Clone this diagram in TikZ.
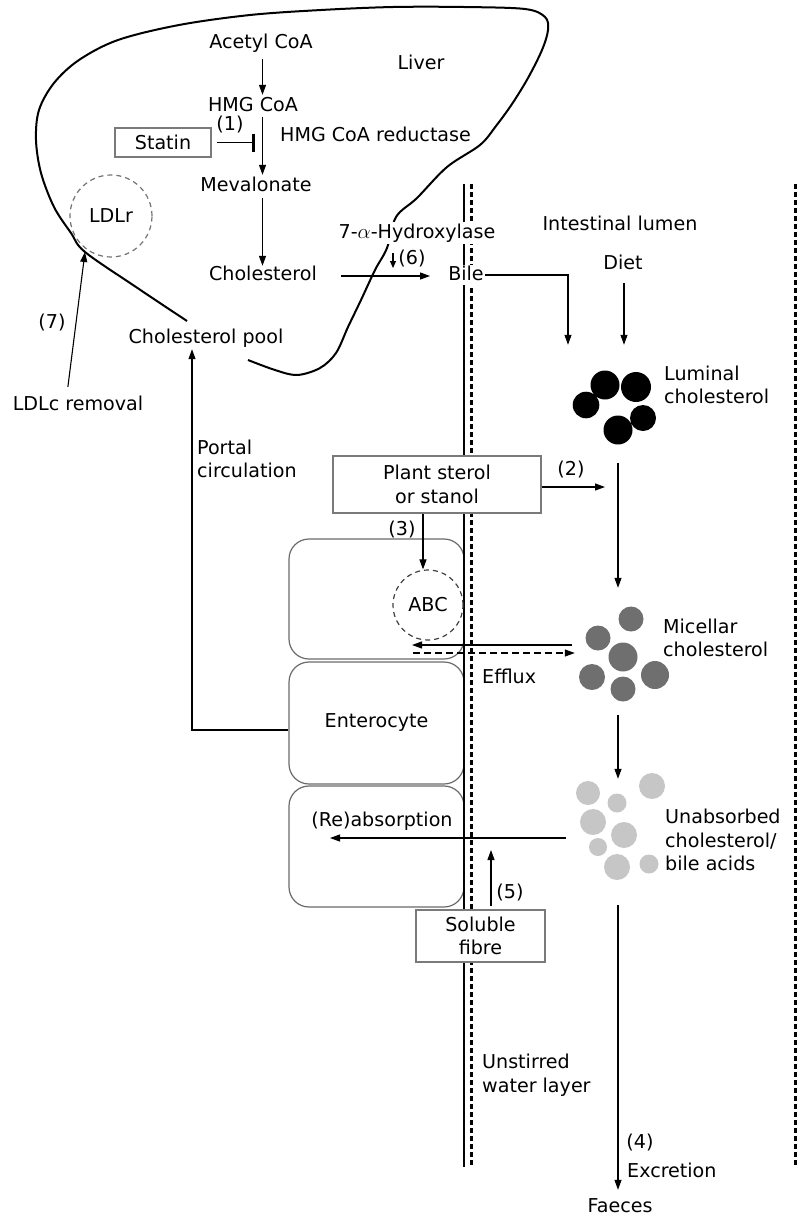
\documentclass[tikz,border=0pt]{standalone}
\usepackage{fontspec}
\setmainfont{DejaVu Sans}
\usetikzlibrary{arrows.meta,calc}
\definecolor{micgray}{HTML}{6F6F6F}
\definecolor{unabgray}{HTML}{C6C6C6}
\definecolor{boxgray}{HTML}{7A7A7A}
\definecolor{cellgray}{HTML}{6A6A6A}
\begin{document}
\begin{tikzpicture}[x=1pt,y=-1pt,
  every node/.style={font=\fontsize{19.1}{23.5}\selectfont, inner sep=2pt},
  lbl/.style={text height=14pt, text depth=4pt},
  arr/.style={draw=black, line width=1.1pt, -{Triangle[length=10pt,width=7pt]}},
  smallarr/.style={draw=black, line width=1.1pt, -{Triangle[length=7pt,width=6pt]}},
  plainline/.style={draw=black, line width=1.1pt},
  liverline/.style={line width=2pt, black},
  txtbox/.style={draw=boxgray, line width=1.3pt, fill=white, inner sep=0pt, align=center},
  cell/.style={draw=cellgray, line width=1.2pt, rounded corners=20pt, minimum width=175pt, inner sep=0pt},
  dcirc/.style={circle, draw=black!75, line width=1.2pt, dash pattern=on 5pt off 4pt, inner sep=0pt, minimum size=70pt},
  memsolid/.style={line width=2.6pt, black},
  memdot/.style={line width=3pt, black, dash pattern=on 5pt off 3pt},
  hole/.style={fill=white},
  cluster/.style={inner sep=0pt, minimum width=80pt}
]
\useasboundingbox (0,0) rectangle (800,1219);

% liver outline
\draw[liverline] plot[smooth, tension=0.55] coordinates {(248,360) (275,370) (297,375) (320,368) (336,353) (348,327) (361,300) (375,270) (387,248) (396,217) (417,198) (447,167) (480,145) (496,126) (512,104) (528,78) (542,50) (548,30) (545,17) (525,9) (464,7) (393,7) (321,10) (250,15) (179,25) (118,40) (79,60) (54,83) (39,110) (36,140) (41,173) (54,207) (71,233) (85,252) (136,287) (187,321)};

% enterocytes
\node[cell, minimum height=120pt] (ent1) at (376.5,599) {};
\node[cell, minimum height=122pt] (ent2) at (376.5,723) {Enterocyte};
\node[cell, minimum height=121pt] (ent3) at (376.5,846.5) {};

% membranes
\draw[memsolid] (464,184) -- (464,1167);
\draw[memdot] (471,184) -- (471,1167);
\draw[memdot] (795,184) -- (795,1165);

% liver labels
\node[lbl] (acetyl) at (261,43) {Acetyl CoA};
\node[lbl] (liver) at (421,64) {Liver};
\node[lbl] (hmg) at (253,106) {HMG CoA};
\node[lbl] (one) at (230,125) {(1)};
\node[lbl, anchor=west] (reduct) at (278,136) {HMG CoA reductase};
\node[txtbox, minimum width=96pt, minimum height=29pt] (statin) at (163,142.5) {Statin};
\node[lbl] (meval) at (256,186) {Mevalonate};
\node[lbl] (chol) at (263,275) {Cholesterol};
\node[dcirc, minimum size=82pt, draw=black!55] (ldlr) at (111,216) {LDLr};
\node[lbl, hole] (hydrox) at (417,233) {7-$\alpha$-Hydroxylase};
\node[lbl] (six) at (412,259) {(6)};
\node[lbl, hole, inner sep=1pt] (bile) at (466,275) {Bile};
\node[lbl, hole] (cpool) at (206,338) {Cholesterol pool};
\node[lbl] (seven) at (52,323) {(7)};
\node[lbl] (ldlc) at (78,405) {LDLc removal};

% lumen labels
\node[lbl] (intest) at (620,225) {Intestinal lumen};
\node[lbl] (diet) at (623,264) {Diet};
\node[anchor=west, align=left] (lumlab) at (662,385) {Luminal\\cholesterol};
\node[anchor=west, align=left] (miclab) at (661,638) {Micellar\\cholesterol};
\node[anchor=west, align=left] (unablab) at (663,840) {Unabsorbed\\cholesterol/\\bile acids};
\node[lbl, anchor=west] (efflux) at (480,678) {Efflux};
\node[anchor=west, align=left] (unstir) at (480,1075) {Unstirred\\water layer};
\node[lbl] (four) at (640,1143) {(4)};
\node[lbl, anchor=west] (excr) at (625,1172) {Excretion};
\node[text height=14pt, text depth=0pt, inner sep=0pt] (faeces) at (620,1205) {Faeces};

% intestinal wall labels
\node[txtbox, minimum width=208pt, minimum height=57pt] (plant) at (437,484.5) {Plant sterol\\or stanol};
\node[lbl] (two) at (571,470) {(2)};
\node[lbl] (three) at (402,530) {(3)};
\node[dcirc] (abc) at (428,605) {ABC};
\node[anchor=west, align=left] (portal) at (195,459) {Portal\\circulation};
\node[lbl] (reabs) at (382,821) {(Re)absorption};
\node[lbl] (five) at (510,893) {(5)};
\node[txtbox, minimum width=129pt, minimum height=52pt] (fibre) at (480.5,936) {Soluble\\fibre};

% clusters (anchors for connectors)
\node[cluster, minimum height=118pt] (lumcl) at (618,404) {};
\node[cluster, minimum width=92pt, minimum height=127pt] (miccl) at (618,651.5) {};
\node[cluster, minimum width=104pt, minimum height=126pt] (unabcl) at (618,842) {};

% luminal cholesterol
\fill[black] (605,385) circle (14.5) (636,387) circle (15) (586,405) circle (13.3) (643,418) circle (13) (618,430) circle (14.5);
% micellar cholesterol
\fill[micgray] (631,619) circle (12.5) (598,638) circle (12.5) (623,657) circle (14.5) (592,677) circle (13) (655,675) circle (14) (623,689) circle (12.5);
% unabsorbed
\fill[unabgray] (588,793) circle (12) (652,786) circle (13) (617,803) circle (9.5) (593,822) circle (13) (624,835) circle (13) (598,847) circle (9) (617,867) circle (13) (649,864) circle (9.5);

% axis coordinates
\coordinate (ax) at (262.5,0);
\coordinate (bilex) at (568,0);
\coordinate (dietx) at (624,0);
\coordinate (threex) at (423,0);
\coordinate (portx) at (192,0);
\coordinate (sixtip) at (393,268);
\coordinate (ldlrtip) at (85,252);
\coordinate (twoend) at (605,487);
\coordinate (effin) at (412,645);
\coordinate (effout) at (413,653);
\coordinate (reabsend) at (330,838);
\coordinate (fiveend) at (491,850);

% liver pathway
\draw[arr, shorten <=5pt] (acetyl.south -| ax) -- (hmg.north -| ax);
\draw[arr] (hmg.south -| ax) -- (meval.north -| ax);
\draw[arr, shorten <=1pt, shorten >=-2pt] (meval.south -| ax) -- (chol.north -| ax);
\draw[plainline, -{Bar[width=18pt, line width=2.6pt]}] ([xshift=5pt]statin.east) -- ([xshift=-7.5pt]statin.east -| ax);
\draw[arr, shorten <=22pt, shorten >=17pt] ([yshift=-1pt]chol.east) -- ([yshift=-1pt]bile.west);
\draw[smallarr] ([yshift=-9pt]hydrox.south -| sixtip) -- (sixtip);
\draw[arr] (bile.east) -- (bile.east -| bilex) -- (lumcl.north -| bilex);
\draw[arr, shorten <=8pt] (diet.south -| dietx) -- (lumcl.north -| dietx);
\draw[arr, shorten <=7pt] ([xshift=-11pt]ldlc.north) -- (ldlrtip);

% lumen pathway
\draw[arr] (lumcl.south) -- (miccl.north);
\draw[arr] (miccl.south) -- (unabcl.north);
\draw[arr, shorten >=8pt] (unabcl.south) -- (faeces.north -| unabcl.south);
\draw[arr] ([yshift=-2.5pt]plant.east) -- (twoend);
\draw[arr] (plant.south -| threex) -- (abc.north -| threex);
\draw[arr] ([yshift=6.5pt]miccl.west) -- (effin);
\draw[arr, dash pattern=on 7pt off 4pt] (effout) -- ([xshift=3pt,yshift=-1.5pt]miccl.west);
\draw[arr] ([yshift=4pt]unabcl.west) -- (reabsend);
\draw[arr, shorten <=3pt] (fibre.north -| fiveend) -- (fiveend);
\draw[arr] ([yshift=-7pt]ent2.west) -- ([yshift=-7pt]ent2.west -| portx) -- (cpool.south -| portx);
\end{tikzpicture}
\end{document}
